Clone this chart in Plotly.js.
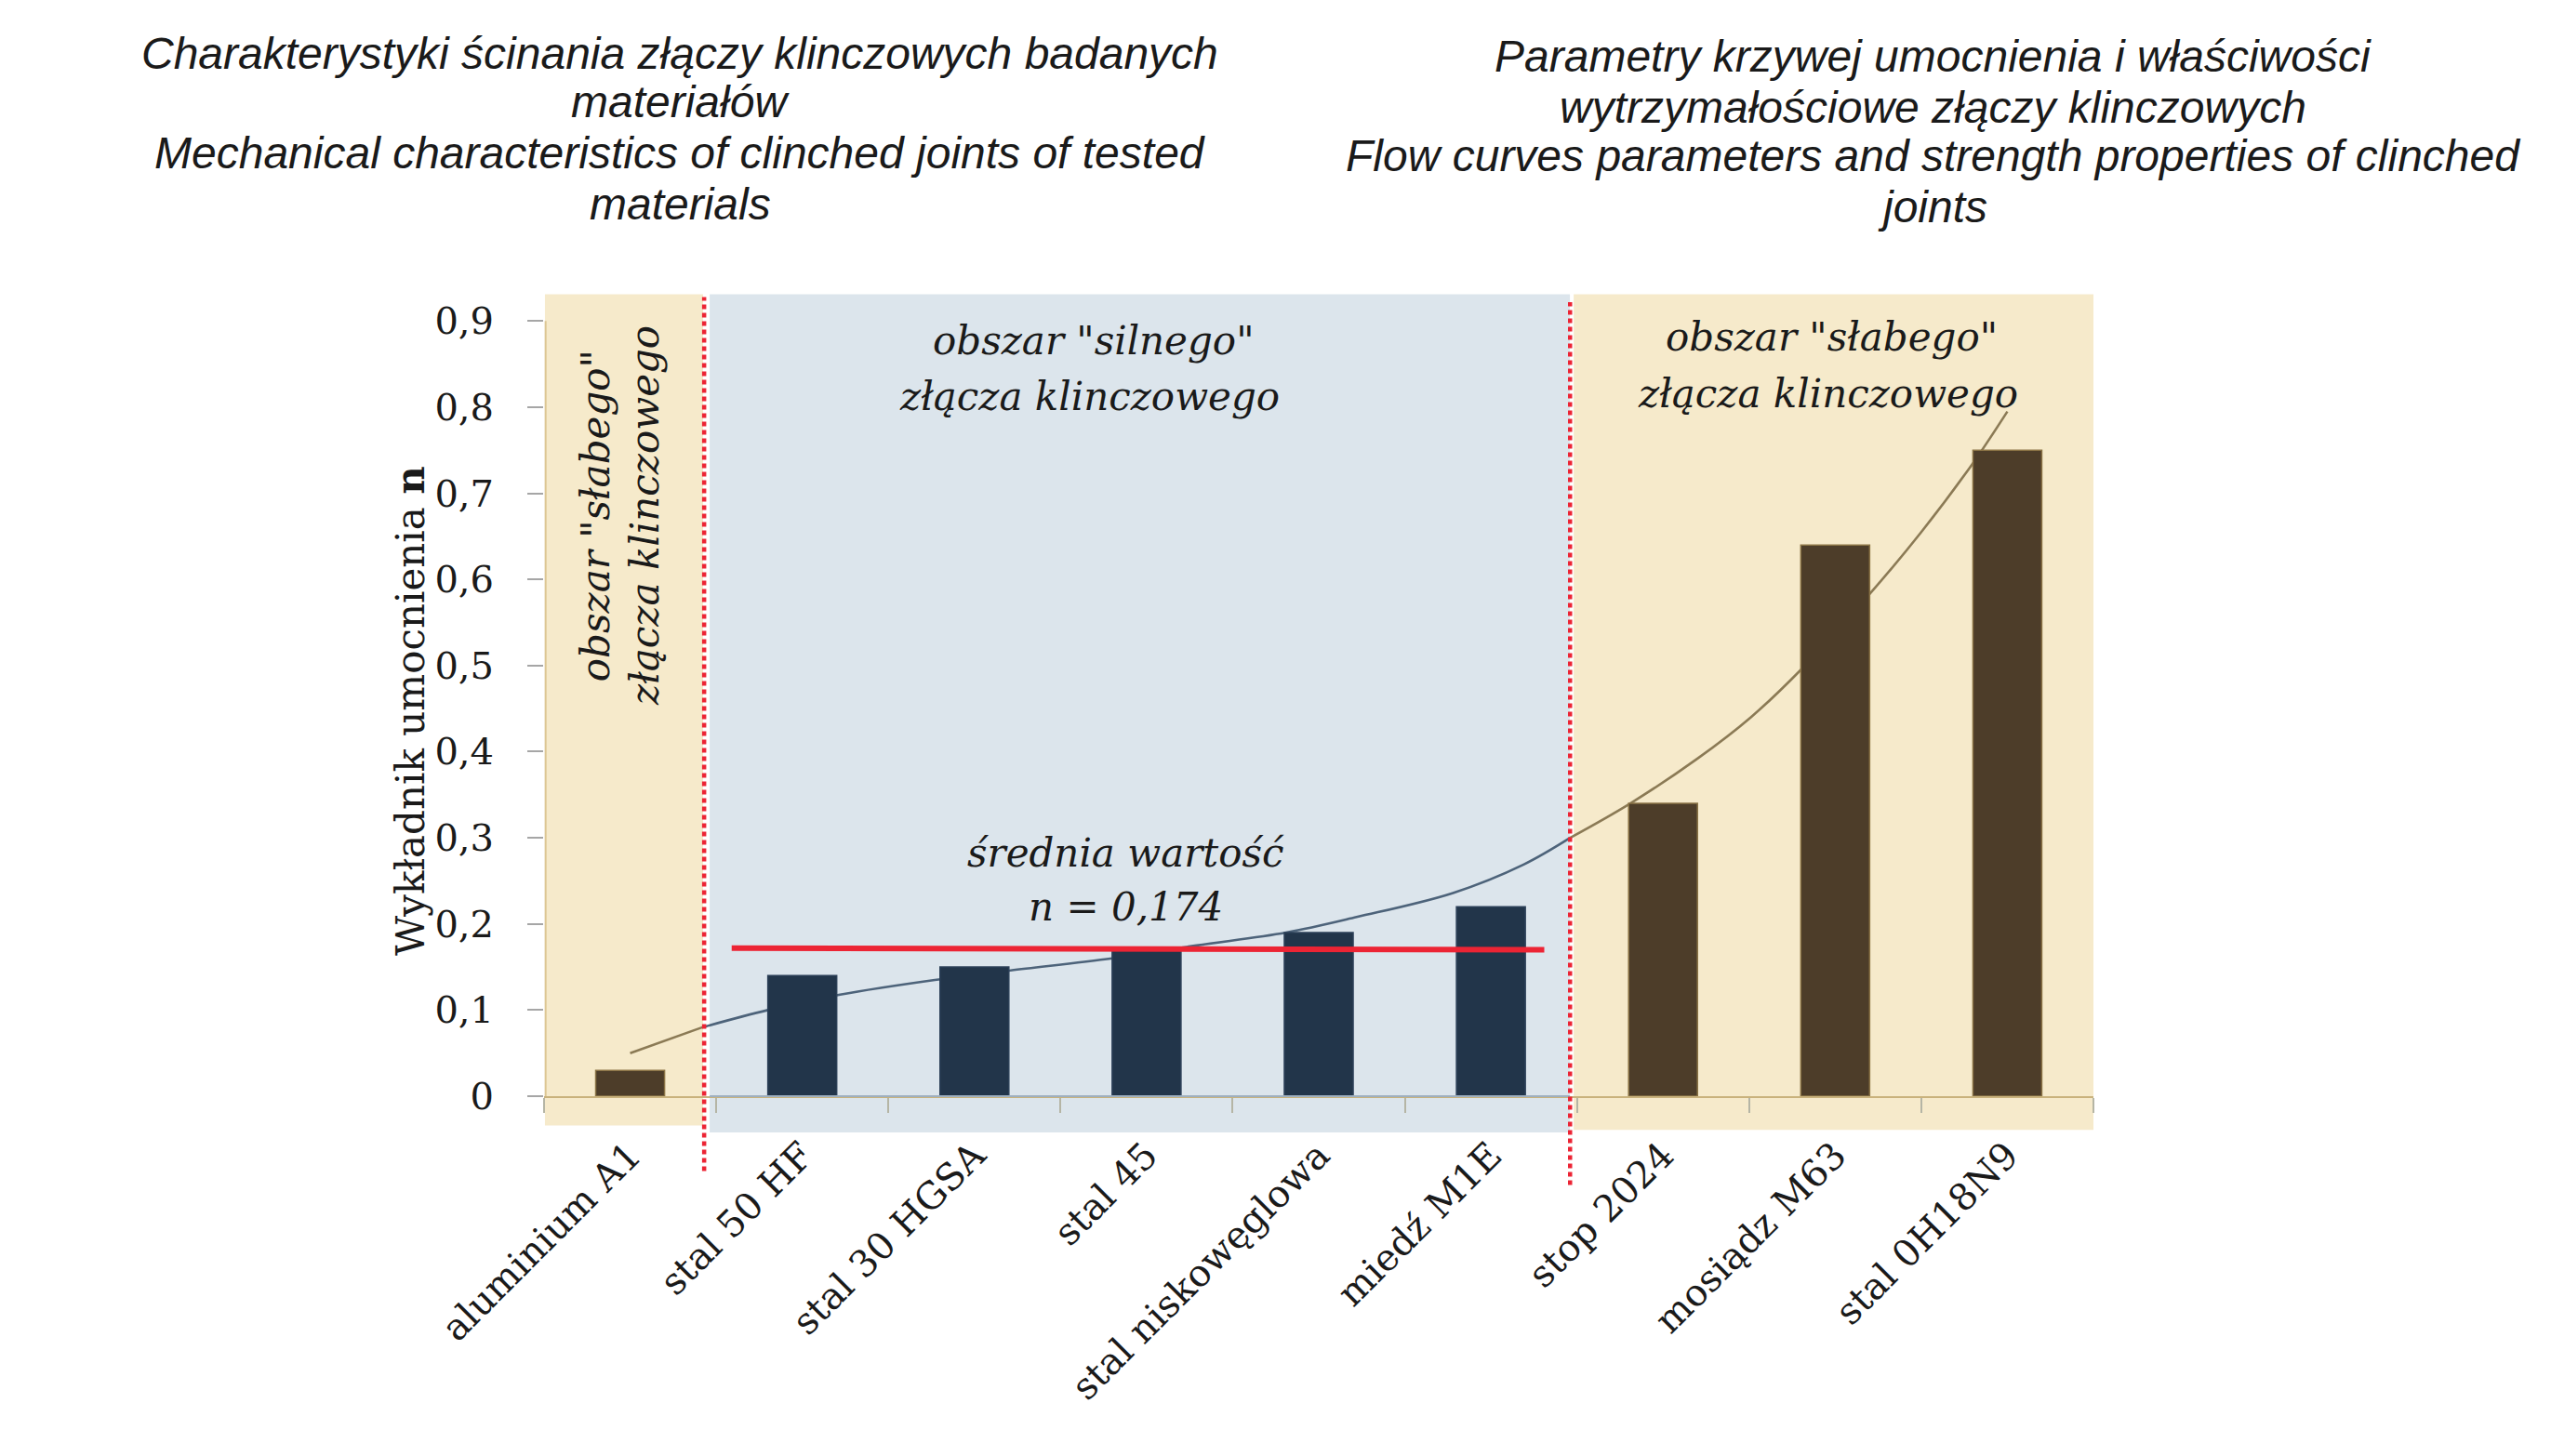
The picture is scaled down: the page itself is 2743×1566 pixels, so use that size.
<!DOCTYPE html>
<html><head><meta charset="utf-8">
<script src="https://cdn.plot.ly/plotly-3.0.1.min.js"></script>
<style>html,body{margin:0;padding:0;background:#fff}#chart{width:2743px;height:1566px}</style>
</head><body><div id="chart"></div>
<script>
// ---- data ----
const categories = ['aluminium A1','stal 50 HF','stal 30 HGSA','stal 45','stal niskowęglowa','miedź M1E','stop 2024','mosiądz M63','stal 0H18N9'];
const nValues    = [0.03, 0.14, 0.15, 0.17, 0.19, 0.22, 0.34, 0.64, 0.75];
const jointZone  = ['weak','strong','strong','strong','strong','strong','weak','weak','weak'];
// trend curve (category position, n)
const trendX = [0, 0.42, 0.80, 1.22, 1.77, 2.21, 2.80, 3.29, 3.81, 4.22, 4.78, 5.19, 5.46, 5.81, 6.20, 6.51, 6.80, 7.20, 7.50, 7.80, 8.00];
const trendY = [0.050, 0.080, 0.100, 0.118, 0.135, 0.146, 0.160, 0.175, 0.190, 0.208, 0.236, 0.269, 0.300, 0.340, 0.392, 0.440, 0.495, 0.583, 0.655, 0.735, 0.795];
// mean line of the "strong" zone
const meanValue = 0.174;
const meanX = [0.59, 5.31];
const meanY = [0.172, 0.170];
// zone borders (category position)
const zoneBorders = [0.43, 5.46];
const yTickVals = [0, 0.1, 0.2, 0.3, 0.4, 0.5, 0.6, 0.7, 0.8, 0.9];
const yTickText = ['0', '0,1', '0,2', '0,3', '0,4', '0,5', '0,6', '0,7', '0,8', '0,9'];

// ---- layout constants ----
const W = 2743, H = 1566, L = 585, R = 492, T = 299, B = 387;
const PW = W - L - R, PH = H - T - B;
const yMax = 0.95;
const xMin = -0.5, xMax = categories.length - 0.5;
const px2x = px => (px - L) / PW;          // pixel -> paper x
const py2y = py => (H - B - py) / PH;      // pixel -> paper y
const v2p = v => v / yMax;                 // data y -> paper y

const BEIGE = '#f6eacb', BLUE = '#dce5ec';
const NAVY = '#22354a', BROWN = '#4d3d29';
const CURVE_BLUE = '#4d637a', CURVE_BROWN = '#8b7a55';
const RED = '#ec2434';
const SERIF = 'DejaVu Serif, Liberation Serif, serif';
const SANS = 'Liberation Sans, Arial, sans-serif';
const TXT = '#1a1a1a';

const idx = categories.map((c, i) => i);

// split trend curve into zone segments
function seg(f) {
  const xs = [], ys = [];
  trendX.forEach((x, i) => { if (f(x)) { xs.push(x); ys.push(trendY[i]); } });
  return {x: xs, y: ys};
}
const s1 = seg(x => x <= 0.42);
const s2 = seg(x => x >= 0.42 && x <= 5.46);
const s3 = seg(x => x >= 5.46);
function curveTrace(s, color) {
  return {type: 'scatter', mode: 'lines', x: s.x, y: s.y, xaxis: 'x', yaxis: 'y',
    line: {color: color, width: 2.6, shape: 'spline', smoothing: 1}, hoverinfo: 'skip'};
}

const traces = [
  curveTrace(s1, CURVE_BROWN),
  curveTrace(s2, CURVE_BLUE),
  curveTrace(s3, CURVE_BROWN),
  {type: 'bar', x: idx, y: nValues, xaxis: 'x2', yaxis: 'y2', width: 0.4,
    marker: {color: jointZone.map(z => z === 'strong' ? NAVY : BROWN),
             line: {color: jointZone.map(z => z === 'strong' ? '#2c4058' : '#8a7345'), width: 1.5}}},
  {type: 'scatter', mode: 'lines', x: meanX, y: meanY, xaxis: 'x2', yaxis: 'y2',
    line: {color: RED, width: 6}}
];

const shapes = [
  // zones
  {type: 'rect', layer: 'below', xref: 'x', yref: 'paper', x0: -0.495, x1: 0.424, y0: v2p(-0.034), y1: v2p(0.931), fillcolor: BEIGE, line: {width: 0}},
  {type: 'rect', layer: 'below', xref: 'x', yref: 'paper', x0: 0.462, x1: 5.459, y0: v2p(-0.042), y1: v2p(0.931), fillcolor: BLUE, line: {width: 0}},
  {type: 'rect', layer: 'below', xref: 'x', yref: 'paper', x0: 5.481, x1: 8.533, y0: v2p(-0.039), y1: v2p(0.931), fillcolor: BEIGE, line: {width: 0}},
  // y axis line (tan)
  {type: 'line', layer: 'below', xref: 'paper', yref: 'paper', x0: 0.001, x1: 0.001, y0: 0, y1: v2p(0.90), line: {color: '#dcc693', width: 2}},
  // blue part of the x axis line
  {type: 'line', layer: 'above', xref: 'x', yref: 'paper', x0: 0.462, x1: 5.459, y0: 0, y1: 0, line: {color: '#9fb0c0', width: 2}},
  // red dotted zone borders
  {type: 'line', layer: 'above', xref: 'x', yref: 'paper', x0: zoneBorders[0], x1: zoneBorders[0], y0: v2p(-0.087), y1: v2p(0.928), line: {color: RED, width: 4.5, dash: '5px,4px'}},
  {type: 'line', layer: 'above', xref: 'x', yref: 'paper', x0: zoneBorders[1], x1: zoneBorders[1], y0: v2p(-0.103), y1: v2p(0.922), line: {color: RED, width: 4.5, dash: '5px,4px'}}
];

function note(text, x, y, opts) {
  return Object.assign({text: text, x: x, y: y, xref: 'x', yref: 'y', showarrow: false,
    xanchor: 'center', yanchor: 'middle',
    font: {family: SERIF, size: 42, color: TXT, style: 'italic'}}, opts || {});
}
function title(text, px, py) {
  return {text: text, x: px2x(px), y: py2y(py), xref: 'paper', yref: 'paper', showarrow: false,
    xanchor: 'center', yanchor: 'middle', font: {family: SANS, size: 48, color: TXT, style: 'italic'}};
}
const meanText = 'n = ' + meanValue.toFixed(3).replace('.', ',');

const annotations = [
  title('Charakterystyki ścinania złączy klinczowych badanych', 731, 58),
  title('materiałów', 731, 110),
  title('Mechanical characteristics of clinched joints of tested', 731, 164),
  title('materials', 731, 219),
  title('Parametry krzywej umocnienia i właściwości', 2078, 61),
  title('wytrzymałościowe złączy klinczowych', 2078, 115),
  title('Flow curves parameters and strength properties of clinched', 2078, 168),
  title('joints', 2078, 222),
  note('obszar "silnego"', 2.69, 0.877),
  note('złącza klinczowego', 2.67, 0.812),
  note('obszar "słabego"', 6.98, 0.881),
  note('złącza klinczowego', 6.96, 0.816),
  note('obszar "słabego"', -0.20, 0.674, {textangle: -90}),
  note('złącza klinczowego', 0.085, 0.674, {textangle: -90}),
  note('średnia wartość', 2.88, 0.282),
  note(meanText, 2.88, 0.220),
  {text: 'Wykładnik umocnienia <b>n</b>', x: px2x(441), y: py2y(765), xref: 'paper', yref: 'paper',
    showarrow: false, textangle: -90, xanchor: 'center', yanchor: 'middle',
    font: {family: SERIF, size: 42, color: TXT}}
];

const layout = {
  width: W, height: H,
  margin: {l: L, r: R, t: T, b: B, pad: 0},
  paper_bgcolor: '#ffffff', plot_bgcolor: 'rgba(0,0,0,0)',
  showlegend: false,
  xaxis: {type: 'linear', range: [xMin, xMax], tickmode: 'array', tickvals: idx, ticktext: categories,
    tickangle: -45, ticks: 'outside', ticklen: 16, tickcolor: 'rgba(0,0,0,0)',
    minor: {tickmode: 'array', tickvals: idx.concat([categories.length]).map(i => i - 0.5), ticks: 'outside', ticklen: 16, tickwidth: 2, tickcolor: '#b5b5a5'},
    showline: true, linecolor: '#c9b27c', linewidth: 2, showgrid: false, zeroline: false,
    ticklabelstandoff: 6,
    tickfont: {family: SERIF, size: 40, color: TXT}},
  yaxis: {type: 'linear', range: [0, yMax], tickmode: 'array', tickvals: yTickVals, ticktext: yTickText,
    ticks: 'outside', ticklen: 17, tickwidth: 2, tickcolor: '#a6a6a6', showline: false, showgrid: false, zeroline: false,
    ticklabelstandoff: 28,
    tickfont: {family: SERIF, size: 40, color: TXT}},
  xaxis2: {overlaying: 'x', range: [xMin, xMax], visible: false, type: 'linear'},
  yaxis2: {overlaying: 'y', range: [0, yMax], visible: false, type: 'linear'},
  shapes: shapes,
  annotations: annotations
};

Plotly.newPlot('chart', traces, layout, {displayModeBar: false, staticPlot: true});
</script>
</body></html>
